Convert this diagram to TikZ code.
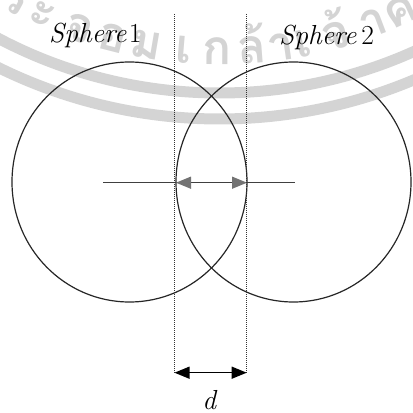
\documentclass[tikz,border=0pt]{standalone}
\usepackage{fontspec}
\newfontfamily\thaifont[Script=Thai]{Loma}
\usetikzlibrary{arrows.meta,calc}
\begin{document}
\begin{tikzpicture}[x=1pt,y=1pt,
  ring/.style={line width=1.2pt, black!85},
  guide/.style={line width=0.9pt, dash pattern=on 1pt off 1pt, black!80},
  dimarrow/.style={line width=1.3pt, {Triangle[length=15pt,width=12pt]}-{Triangle[length=15pt,width=12pt]}},
  lbl/.style={font=\fontsize{27.5}{30}\selectfont, inner sep=0pt},
  wmband/.style={black!17, line width=11pt},
  wmtext/.style={font=\thaifont\bfseries\fontsize{48}{50}\selectfont, text=black!17, inner sep=0pt, anchor=base}
]
\useasboundingbox (0,0) rectangle (413,413);
% faint watermark
\begin{scope}
\clip (0,0) rectangle (413,413);
\coordinate (wc) at (219.6,794);
\draw[wmband] (wc) ++(-135:474) arc[start angle=-135, end angle=-45, radius=474];
\draw[wmband] (wc) ++(-135:500) arc[start angle=-135, end angle=-45, radius=500];
\foreach \ch/\ang [count=\i] in {ร/-28.2, ะ/-24.2, จ/-19.0, อ/-14.3, ม/-9.7, เ/-4.7, ก/-0.3, ล้/4.3, า/8.2, เ/11.1, จ้/15.7, า/20.8, ค/24.7}
  \node[wmtext, rotate=\ang] (w\i) at ($(wc)+(-90+\ang:446)$) {\ch};
\end{scope}
% circles
\coordinate (o1) at (129.5,231);
\coordinate (o2) at (293.5,231);
\draw[ring] (o1) ellipse [x radius=117.5, y radius=120];
\draw[ring] (o2) ellipse [x radius=117.5, y radius=120];
% axis line and overlap arrow
\coordinate (h1) at (103,230.3);
\coordinate (h2) at (295,230.3);
\draw[line width=1.3pt, black!75] (h1) -- (h2);
\coordinate (e2) at (176,230.3);
\coordinate (e1) at (247,230.3);
\draw[line width=1.3pt, black!75, {Triangle[length=15pt,width=12pt,color=black!55]}-{Triangle[length=15pt,width=12pt,color=black!55]}] (e2) -- (e1);
% dotted guides
\coordinate (g1t) at (174.5,399);
\coordinate (g1b) at (174.5,40.3);
\coordinate (g2t) at (246.7,399);
\coordinate (g2b) at (246.7,40.3);
\draw[guide] (g1t) -- (g1b);
\draw[guide] (g2t) -- (g2b);
% bottom dimension
\draw[dimarrow, black] (g1b) -- (g2b);
% labels
\node[lbl, anchor=base west] (s1) at (49,370) {\textit{Sphere}\kern2pt 1};
\node[lbl, anchor=base west] (s2) at (279,368) {\textit{Sphere}\,2};
\node[lbl, anchor=base] (d) at (210,4) {\textit{d}};
\end{tikzpicture}
\end{document}
